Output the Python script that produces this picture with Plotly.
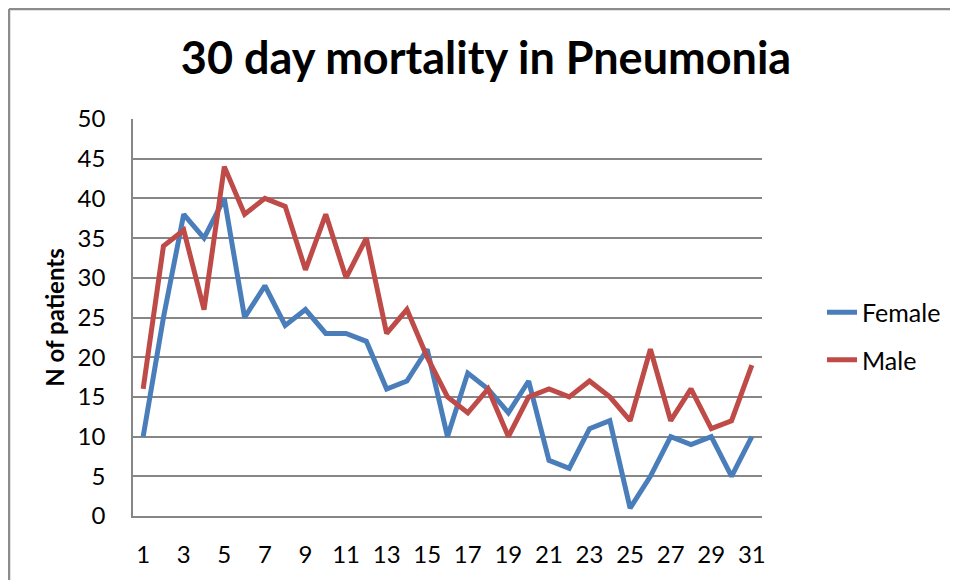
import plotly.graph_objects as go

days = list(range(1, 32))
female = [10, 25, 38, 35, 40, 25, 29, 24, 26, 23, 23, 22, 16, 17, 21, 10, 18, 16, 13, 17,
          7, 6, 11, 12, 1, 5, 10, 9, 10, 5, 10]
male = [16, 34, 36, 26, 44, 38, 40, 39, 31, 38, 30, 35, 23, 26, 20, 15, 13, 16, 10, 15,
        16, 15, 17, 15, 12, 21, 12, 16, 11, 12, 19]
x_ticks = list(range(1, 32, 2))
y_ticks = list(range(0, 51, 5))

FONT = "Lato"
# page body adds an 8px margin, so the figure is 8px smaller and shifted
W, H = 950, 572
L, R, T, B = 125, 196, 111, 64
PW, PH = W - L - R, H - T - B

fig = go.Figure()
fig.add_trace(go.Scatter(x=days, y=female, mode="lines", name="Female", legendgroup="f",
                         line=dict(color="#4A7EBB", width=5)))
fig.add_trace(go.Scatter(x=days, y=male, mode="lines", name="Male", legendgroup="m",
                         line=dict(color="#BE4B48", width=5)))

fig.update_layout(
    width=W, height=H,
    margin=dict(l=L, r=R, t=T, b=B),
    paper_bgcolor="white", plot_bgcolor="white",
    font=dict(family=FONT, size=24, color="black"),
    title=dict(text="<b>30 day mortality in Pneumonia</b>", x=(486 - 8) / W, xanchor="center",
               y=1 - 50 / H, yanchor="middle", font=dict(family=FONT, size=45, color="black")),
    showlegend=True,
    legend=dict(x=(814 - L) / PW, y=(H - B - 328) / PH, xanchor="left", yanchor="middle",
                font=dict(family=FONT, size=25), bgcolor="rgba(0,0,0,0)",
                traceorder="grouped", tracegroupgap=12),
    xaxis=dict(range=[0.5, 31.5], tickmode="array", tickvals=x_ticks, ticktext=[str(t) for t in x_ticks],
               showgrid=False, zeroline=False, showline=True, linecolor="#868686", linewidth=1.5,
               ticks="", ticklabelstandoff=16, fixedrange=True),
    yaxis=dict(range=[0, 50], tickmode="array", tickvals=y_ticks, ticktext=[str(t) for t in y_ticks],
               showgrid=True, gridcolor="#868686", gridwidth=1.5, zeroline=False,
               showline=True, linecolor="#868686", linewidth=1.5, ticks="", ticklabelstandoff=21,
               title=dict(text="<b>N of patients</b>", font=dict(family=FONT, size=24), standoff=6),
               fixedrange=True),
)

# outer frame (left and top edges visible in the reference)
fx = (1 - L) / PW
fy = (H - B - 1) / PH
fig.add_shape(type="line", xref="paper", yref="paper", x0=fx, x1=fx, y0=-B / PH, y1=fy,
              line=dict(color="#8C8C8C", width=2.5))
fig.add_shape(type="line", xref="paper", yref="paper", x0=fx, x1=(W - L) / PW, y0=fy, y1=fy,
              line=dict(color="#8C8C8C", width=2.5))

fig.write_html("out.html")
